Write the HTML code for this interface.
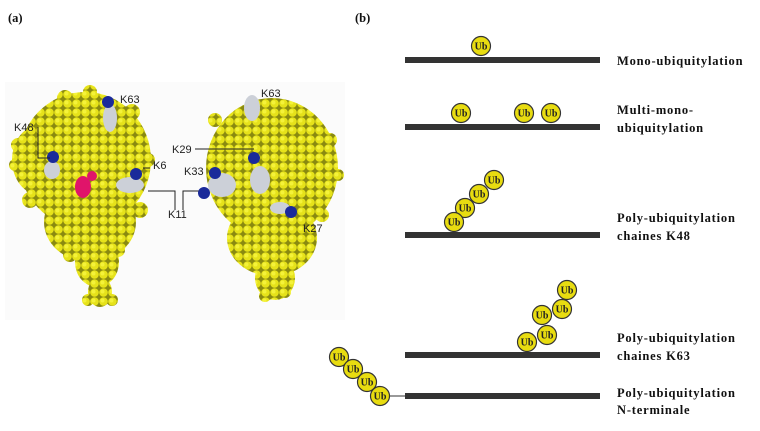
<!DOCTYPE html>
<html><head><meta charset="utf-8"><style>
html,body{margin:0;padding:0;background:#fff;width:760px;height:431px;overflow:hidden}
svg{display:block}
.lb{font-family:"Liberation Serif",serif;font-weight:bold;font-size:12.5px;letter-spacing:0.8px;fill:#111}
.k{font-family:"Liberation Sans",sans-serif;font-size:11px;fill:#222}
.ub text{font-family:"Liberation Serif",serif;font-weight:bold;font-size:10px;fill:#222;text-anchor:middle}
</style></head><body>
<svg width="760" height="431" viewBox="0 0 760 431" xmlns="http://www.w3.org/2000/svg">
<defs>
<pattern id="atoms" width="9" height="9" patternUnits="userSpaceOnUse">
<rect width="9" height="9" fill="#8a8a10"/>
<circle cx="4.5" cy="4.5" r="4.3" fill="#e6e21a"/>
<circle cx="3.5" cy="3.5" r="2" fill="#f4f23a"/>
</pattern>
<g id="u"><circle r="9.5" fill="#e8dc10" stroke="#333" stroke-width="1.2"/></g>
</defs>
<rect width="760" height="431" fill="#fff"/>
<rect x="5" y="82" width="340" height="238" fill="#fbfbfb"/>
<text x="8" y="22" class="lb" style="letter-spacing:0">(a)</text>
<text x="355" y="22" class="lb" style="letter-spacing:0">(b)</text>

<!-- left protein -->
<g fill="url(#atoms)">
<ellipse cx="85" cy="160" rx="66" ry="68"/>
<ellipse cx="90" cy="222" rx="46" ry="40"/>
<ellipse cx="97" cy="262" rx="22" ry="25"/>
<ellipse cx="100" cy="292" rx="12" ry="15"/>
<ellipse cx="40" cy="160" rx="28" ry="35"/>
<circle cx="18" cy="145" r="7"/><circle cx="15" cy="165" r="6"/><circle cx="30" cy="200" r="8"/>
<circle cx="148" cy="160" r="7"/><circle cx="140" cy="210" r="8"/>
<circle cx="65" cy="98" r="8"/><circle cx="90" cy="92" r="7"/><circle cx="132" cy="112" r="8"/>
<circle cx="70" cy="255" r="7"/><circle cx="118" cy="250" r="7"/><circle cx="112" cy="300" r="6"/><circle cx="88" cy="300" r="6"/>
</g>
<g fill="#ccd0d8"><ellipse cx="110" cy="118" rx="7" ry="14"/><ellipse cx="52" cy="170" rx="8" ry="9"/><ellipse cx="130" cy="185" rx="14" ry="8"/></g>
<g fill="#1a2a9a"><circle cx="108" cy="102" r="6"/><circle cx="53" cy="157" r="6"/><circle cx="136" cy="174" r="6"/></g>
<g fill="#e0146a"><ellipse cx="83" cy="187" rx="8" ry="11"/><circle cx="92" cy="176" r="5"/></g>
<text x="120" y="103" class="k">K63</text>
<text x="14" y="131" class="k">K48</text>
<text x="153" y="169" class="k">K6</text>
<text x="168" y="218" class="k">K11</text>
<path d="M38 127V158H50M143 168H150M148 191H175V210M183 210V191H200" fill="none" stroke="#222" stroke-width="1"/>

<!-- right protein -->
<g fill="url(#atoms)">
<ellipse cx="272" cy="168" rx="66" ry="70"/>
<ellipse cx="272" cy="238" rx="45" ry="38"/>
<ellipse cx="275" cy="278" rx="20" ry="22"/>
<circle cx="215" cy="120" r="7"/><circle cx="330" cy="140" r="7"/><circle cx="338" cy="175" r="6"/>
<circle cx="322" cy="215" r="7"/><circle cx="265" cy="296" r="6"/><circle cx="285" cy="292" r="6"/>
</g>
<g fill="#ccd0d8"><ellipse cx="252" cy="108" rx="8" ry="13"/><ellipse cx="222" cy="185" rx="14" ry="12"/><ellipse cx="260" cy="180" rx="10" ry="14"/><ellipse cx="280" cy="208" rx="10" ry="6"/></g>
<g fill="#1a2a9a"><circle cx="254" cy="158" r="6"/><circle cx="215" cy="173" r="6"/><circle cx="204" cy="193" r="6"/><circle cx="291" cy="212" r="6"/></g>
<text x="261" y="97" class="k">K63</text>
<text x="172" y="153" class="k">K29</text>
<text x="184" y="175" class="k">K33</text>
<text x="303" y="232" class="k">K27</text>
<path d="M195 149H254" fill="none" stroke="#222" stroke-width="1"/>

<!-- bars -->
<g fill="#333"><rect x="405" y="57" width="195" height="6"/><rect x="405" y="124" width="195" height="6"/><rect x="405" y="232" width="195" height="6"/><rect x="405" y="352" width="195" height="6"/><rect x="405" y="393" width="195" height="6"/></g>
<line x1="389" y1="396" x2="405" y2="396" stroke="#333" stroke-width="1"/>

<g class="ub">
<g transform="translate(481,46)"><use href="#u"/><text y="3.5">Ub</text></g>
<g transform="translate(461,113)"><use href="#u"/><text y="3.5">Ub</text></g>
<g transform="translate(524,113)"><use href="#u"/><text y="3.5">Ub</text></g>
<g transform="translate(551,113)"><use href="#u"/><text y="3.5">Ub</text></g>
<g transform="translate(494,180)"><use href="#u"/><text y="3.5">Ub</text></g>
<g transform="translate(479,194)"><use href="#u"/><text y="3.5">Ub</text></g>
<g transform="translate(465,208)"><use href="#u"/><text y="3.5">Ub</text></g>
<g transform="translate(454,222)"><use href="#u"/><text y="3.5">Ub</text></g>
<g transform="translate(567,290)"><use href="#u"/><text y="3.5">Ub</text></g>
<g transform="translate(562,309)"><use href="#u"/><text y="3.5">Ub</text></g>
<g transform="translate(542,315)"><use href="#u"/><text y="3.5">Ub</text></g>
<g transform="translate(547,335)"><use href="#u"/><text y="3.5">Ub</text></g>
<g transform="translate(527,342)"><use href="#u"/><text y="3.5">Ub</text></g>
<g transform="translate(339,357)"><use href="#u"/><text y="3.5">Ub</text></g>
<g transform="translate(353,369)"><use href="#u"/><text y="3.5">Ub</text></g>
<g transform="translate(367,382)"><use href="#u"/><text y="3.5">Ub</text></g>
<g transform="translate(380,396)"><use href="#u"/><text y="3.5">Ub</text></g>
</g>

<text x="617" y="65" class="lb">Mono-ubiquitylation</text>
<text x="617" y="114" class="lb">Multi-mono-</text>
<text x="617" y="132" class="lb">ubiquitylation</text>
<text x="617" y="222" class="lb">Poly-ubiquitylation</text>
<text x="617" y="240" class="lb">chaines K48</text>
<text x="617" y="342" class="lb">Poly-ubiquitylation</text>
<text x="617" y="360" class="lb">chaines K63</text>
<text x="617" y="397" class="lb">Poly-ubiquitylation</text>
<text x="617" y="414" class="lb">N-terminale</text>
</svg>
</body></html>
